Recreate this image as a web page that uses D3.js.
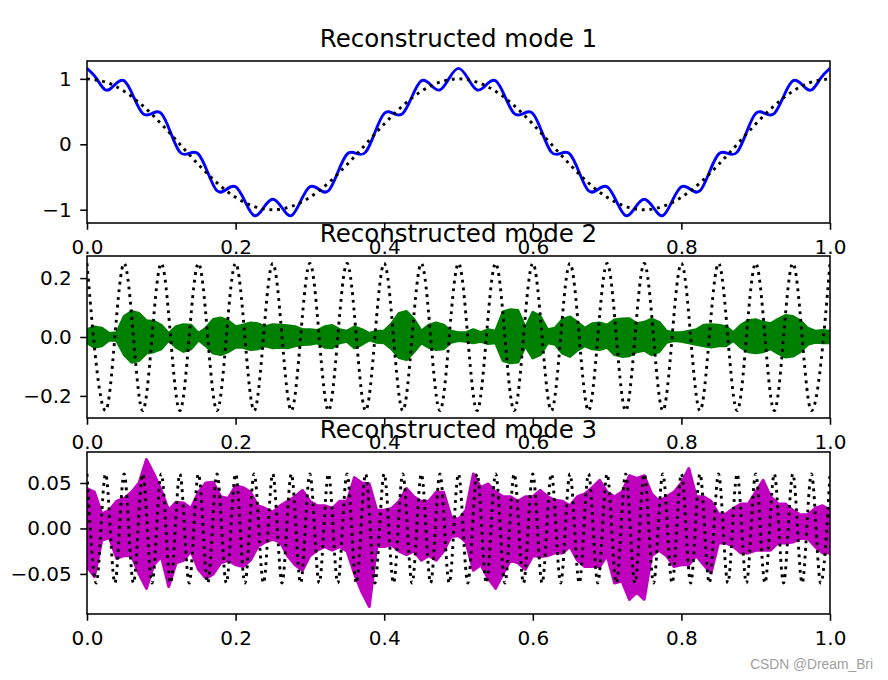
<!DOCTYPE html>
<html><head><meta charset="utf-8">
<script src="https://cdn.jsdelivr.net/npm/d3@7"></script>
<style>body{margin:0;background:#fff} svg{display:block}</style>
</head><body><svg id="c" width="888" height="680"></svg>
<script>
// ---------- DATA ----------
const titles = ["Reconstructed mode 1", "Reconstructed mode 2", "Reconstructed mode 3"];
const xTickValues = [0, 0.2, 0.4, 0.6, 0.8, 1.0];
const xTickLabels = ["0.0", "0.2", "0.4", "0.6", "0.8", "1.0"];
const yTicks1 = [-1, 0, 1];
const yTickLabels1 = ["\u22121", "0", "1"];
const yTicks2 = [-0.2, 0, 0.2];
const yTickLabels2 = ["\u22120.2", "0.0", "0.2"];
const yTicks3 = [-0.05, 0, 0.05];
const yTickLabels3 = ["\u22120.05", "0.00", "0.05"];

// mode 1 reconstruction (blue), samples at t = 0, 0.0125, ..., 1
const mode1Recon = [1.16,1.01,0.83,0.91,0.97,0.73,0.47,0.47,0.47,0.18,-0.12,-0.14,-0.15,-0.43,-0.71,-0.69,-0.65,-0.87,-1.09,-0.97,
  -0.84,-0.97,-1.09,-0.87,-0.65,-0.69,-0.71,-0.43,-0.15,-0.14,-0.12,0.18,0.47,0.47,0.47,0.73,0.97,0.91,0.83,1.01,
  1.16,1.01,0.83,0.91,0.97,0.73,0.47,0.47,0.47,0.18,-0.12,-0.14,-0.15,-0.43,-0.71,-0.69,-0.65,-0.87,-1.09,-0.97,
  -0.84,-0.97,-1.09,-0.87,-0.65,-0.69,-0.71,-0.43,-0.15,-0.14,-0.12,0.18,0.47,0.47,0.47,0.73,0.97,0.91,0.83,1.01,1.16];
// mode 1 true component (black dotted), samples at t = 0, 0.025, ..., 1
const mode1True = [1,0.95,0.81,0.59,0.31,0,-0.31,-0.59,-0.81,-0.95,-1,-0.95,-0.81,-0.59,-0.31,0,0.31,0.59,0.81,0.95,
  1,0.95,0.81,0.59,0.31,0,-0.31,-0.59,-0.81,-0.95,-1,-0.95,-0.81,-0.59,-0.31,0,0.31,0.59,0.81,0.95,1];
// mode 2 true component (black dotted): peaks/troughs at t = 0, 0.025, ..., 1
const mode2True = [0.25,-0.25,0.25,-0.25,0.25,-0.25,0.25,-0.25,0.25,-0.25,0.25,-0.25,0.25,-0.25,0.25,-0.25,0.25,-0.25,0.25,-0.25,
  0.25,-0.25,0.25,-0.25,0.25,-0.25,0.25,-0.25,0.25,-0.25,0.25,-0.25,0.25,-0.25,0.25,-0.25,0.25,-0.25,0.25,-0.25,0.25];
// mode 3 true component (black dotted): peaks/troughs at t = 0, 0.0125, ..., 1
const mode3True = [0.06,-0.06,0.06,-0.06,0.06,-0.06,0.06,-0.06,0.06,-0.06,0.06,-0.06,0.06,-0.06,0.06,-0.06,0.06,-0.06,0.06,-0.06,
  0.06,-0.06,0.06,-0.06,0.06,-0.06,0.06,-0.06,0.06,-0.06,0.06,-0.06,0.06,-0.06,0.06,-0.06,0.06,-0.06,0.06,-0.06,
  0.06,-0.06,0.06,-0.06,0.06,-0.06,0.06,-0.06,0.06,-0.06,0.06,-0.06,0.06,-0.06,0.06,-0.06,0.06,-0.06,0.06,-0.06,
  0.06,-0.06,0.06,-0.06,0.06,-0.06,0.06,-0.06,0.06,-0.06,0.06,-0.06,0.06,-0.06,0.06,-0.06,0.06,-0.06,0.06,-0.06,0.06];
// mode 2 reconstruction (green, dense noise) envelope at t = 0, 0.01, ..., 1
const mode2Upper = [0.025,0.034,0.03,0.012,0.015,0.07,0.087,0.08,0.055,0.053,0.04,0.012,0.035,0.042,0.04,0.012,0.03,0.06,0.065,0.055,
  0.035,0.04,0.048,0.045,0.035,0.042,0.04,0.038,0.035,0.025,0.025,0.022,0.035,0.039,0.025,0.02,0.034,0.025,0.012,0.02,
  0.02,0.045,0.08,0.087,0.06,0.02,0.04,0.048,0.04,0.02,0.015,0.015,0.025,0.015,0.025,0.02,0.085,0.093,0.09,0.03,
  0.084,0.07,0.025,0.03,0.06,0.068,0.05,0.03,0.045,0.048,0.04,0.058,0.061,0.062,0.045,0.05,0.061,0.05,0.02,0.015,
  0.015,0.02,0.025,0.04,0.042,0.04,0.035,0.015,0.04,0.055,0.059,0.05,0.045,0.06,0.073,0.07,0.055,0.03,0.02,0.022,0.02];
const mode2Lower = [-0.02,-0.035,-0.03,-0.01,-0.012,-0.06,-0.086,-0.08,-0.055,-0.05,-0.04,-0.01,-0.035,-0.049,-0.04,-0.01,-0.03,-0.055,-0.06,-0.05,
  -0.035,-0.035,-0.043,-0.04,-0.03,-0.037,-0.035,-0.037,-0.03,-0.026,-0.025,-0.02,-0.035,-0.037,-0.02,-0.015,-0.037,-0.025,-0.01,-0.018,
  -0.02,-0.04,-0.07,-0.077,-0.05,-0.02,-0.035,-0.043,-0.04,-0.018,-0.012,-0.015,-0.02,-0.015,-0.022,-0.02,-0.08,-0.088,-0.085,-0.03,
  -0.071,-0.06,-0.02,-0.025,-0.055,-0.066,-0.045,-0.03,-0.04,-0.043,-0.035,-0.06,-0.066,-0.064,-0.05,-0.045,-0.06,-0.05,-0.018,-0.012,
  -0.015,-0.02,-0.025,-0.03,-0.034,-0.03,-0.03,-0.012,-0.035,-0.05,-0.054,-0.05,-0.04,-0.055,-0.068,-0.065,-0.05,-0.025,-0.018,-0.02,-0.02];
// mode 3 reconstruction (magenta, dense noise) envelope at t = 0, 0.01, ..., 1
const mode3Upper = [0.044,0.04,0.016,0.02,0.03,0.033,0.04,0.05,0.076,0.06,0.042,0.02,0.029,0.028,0.022,0.04,0.05,0.051,0.035,0.033,
  0.047,0.045,0.04,0.025,0.022,0.018,0.025,0.03,0.035,0.042,0.03,0.025,0.025,0.022,0.03,0.03,0.056,0.05,0.049,0.02,
  0.02,0.022,0.03,0.044,0.035,0.03,0.03,0.04,0.04,0.013,0.01,0.02,0.06,0.045,0.049,0.04,0.035,0.035,0.03,0.035,
  0.035,0.042,0.035,0.031,0.03,0.025,0.035,0.038,0.045,0.053,0.04,0.035,0.04,0.058,0.055,0.058,0.038,0.03,0.035,0.04,
  0.05,0.066,0.035,0.035,0.03,0.016,0.016,0.022,0.027,0.027,0.04,0.053,0.035,0.027,0.027,0.02,0.015,0.015,0.022,0.025,0.02];
const mode3Lower = [-0.042,-0.053,-0.013,-0.01,-0.033,-0.03,-0.03,-0.05,-0.066,-0.04,-0.031,-0.064,-0.038,-0.035,-0.025,-0.045,-0.055,-0.05,-0.038,-0.035,
  -0.04,-0.042,-0.035,-0.02,-0.015,-0.012,-0.015,-0.03,-0.04,-0.046,-0.03,-0.024,-0.02,-0.024,-0.02,-0.025,-0.05,-0.07,-0.086,-0.02,
  -0.02,-0.018,-0.025,-0.029,-0.025,-0.035,-0.03,-0.035,-0.025,-0.009,-0.008,-0.015,-0.046,-0.04,-0.055,-0.066,-0.05,-0.035,-0.038,-0.045,
  -0.03,-0.031,-0.03,-0.027,-0.027,-0.02,-0.035,-0.042,-0.042,-0.042,-0.03,-0.06,-0.058,-0.078,-0.07,-0.078,-0.03,-0.024,-0.03,-0.042,
  -0.04,-0.04,-0.03,-0.04,-0.049,-0.016,-0.016,-0.02,-0.027,-0.027,-0.024,-0.024,-0.024,-0.016,-0.016,-0.015,-0.011,-0.011,-0.02,-0.027,-0.027];

// ---------- LAYOUT ----------
const W = 888, H = 680;
const axLeft = 87, axWidth = 743, axHeight = 162;
const axTops = [61, 256, 452];
const pt = 139 / 72;            // px per point
const lw = 1.5 * pt;            // default line width
const tickFont = 20, titleFont = 24.5;
const fontFam = "'DejaVu Sans', sans-serif";

const svg = d3.select("#c");
svg.append("rect").attr("width", W).attr("height", H).attr("fill", "#fff");

const grid = n => d3.range(n).map(i => i / (n - 1));

function pad(ext) { const m = (ext[1] - ext[0]) * 0.05; return [ext[0] - m, ext[1] + m]; }

const panels = [
  { lines: [{ t: grid(mode1Recon.length), v: mode1Recon, color: "#0000ff", curve: d3.curveNatural }],
    areas: [],
    dotted: { t: grid(mode1True.length), v: mode1True, curve: d3.curveNatural },
    yTicks: yTicks1, yLabels: yTickLabels1,
    ext: d3.extent(mode1Recon.concat(mode1True)) },
  { lines: [],
    areas: [{ t: grid(mode2Upper.length), u: mode2Upper, l: mode2Lower, color: "#008000" }],
    dotted: { t: grid(mode2True.length), v: mode2True, curve: d3.curveMonotoneX },
    yTicks: yTicks2, yLabels: yTickLabels2,
    ext: d3.extent(mode2Upper.concat(mode2Lower, mode2True)) },
  { lines: [],
    areas: [{ t: grid(mode3Upper.length), u: mode3Upper, l: mode3Lower, color: "#bf00bf" }],
    dotted: { t: grid(mode3True.length), v: mode3True, curve: d3.curveMonotoneX },
    yTicks: yTicks3, yLabels: yTickLabels3,
    ext: d3.extent(mode3Upper.concat(mode3Lower, mode3True)) }
];

panels.forEach((p, i) => {
  const top = axTops[i];
  const x = d3.scaleLinear().domain([0, 1]).range([axLeft, axLeft + axWidth]);
  const y = d3.scaleLinear().domain(pad(p.ext)).range([top + axHeight, top]);
  const g = svg.append("g");
  const clipId = "clip" + i;
  svg.append("clipPath").attr("id", clipId).append("rect")
    .attr("x", axLeft).attr("y", top).attr("width", axWidth).attr("height", axHeight);
  const plot = g.append("g").attr("clip-path", `url(#${clipId})`);

  p.areas.forEach(a => {
    const idx = d3.range(a.t.length);
    const area = d3.area().x(k => x(a.t[k])).y0(k => y(a.l[k])).y1(k => y(a.u[k]));
    plot.append("path").attr("d", area(idx))
      .attr("fill", a.color).attr("stroke", a.color)
      .attr("stroke-width", lw).attr("stroke-linejoin", "round");
  });
  p.lines.forEach(l => {
    const idx = d3.range(l.t.length);
    const line = d3.line().x(k => x(l.t[k])).y(k => y(l.v[k])).curve(l.curve);
    plot.append("path").attr("d", line(idx)).attr("fill", "none")
      .attr("stroke", l.color).attr("stroke-width", lw).attr("stroke-linejoin", "round");
  });
  {
    const d = p.dotted, idx = d3.range(d.t.length);
    const line = d3.line().x(k => x(d.t[k])).y(k => y(d.v[k])).curve(d.curve);
    plot.append("path").attr("d", line(idx)).attr("fill", "none")
      .attr("stroke", "#000").attr("stroke-width", lw)
      .attr("stroke-dasharray", `${1 * lw},${1.65 * lw}`).attr("stroke-linecap", "butt");
  }

  // axes
  const tickLen = 3.5 * pt, spineW = 0.8 * pt;
  const xAxis = d3.axisBottom(x).tickValues(xTickValues)
    .tickFormat((d, j) => xTickLabels[j]).tickSize(tickLen).tickPadding(10.5);
  const gx = g.append("g").attr("transform", `translate(0,${top + axHeight})`).call(xAxis);
  const yAxis = d3.axisLeft(y).tickValues(p.yTicks)
    .tickFormat((d, j) => p.yLabels[j]).tickSize(tickLen).tickPadding(8.5);
  const gy = g.append("g").attr("transform", `translate(${axLeft},0)`).call(yAxis);
  [gx, gy].forEach(ax => {
    ax.select(".domain").remove();
    ax.selectAll(".tick line").attr("stroke", "#000").attr("stroke-width", spineW);
    ax.selectAll(".tick text").attr("fill", "#000")
      .style("font-family", fontFam).style("font-size", tickFont + "px");
  });
  g.append("rect").attr("x", axLeft).attr("y", top).attr("width", axWidth).attr("height", axHeight)
    .attr("fill", "none").attr("stroke", "#000").attr("stroke-width", spineW);

  g.append("text").attr("x", axLeft + axWidth / 2).attr("y", top - 14.5)
    .attr("text-anchor", "middle").attr("fill", "#000")
    .style("font-family", fontFam).style("font-size", titleFont + "px")
    .text(titles[i]);
});

svg.append("text").attr("x", 873).attr("y", 669).attr("text-anchor", "end")
  .attr("fill", "#a0a0a0").style("font-family", "'Liberation Sans', Arial, sans-serif")
  .style("font-size", "13.8px").text("CSDN @Dream_Bri");
</script></body></html>
